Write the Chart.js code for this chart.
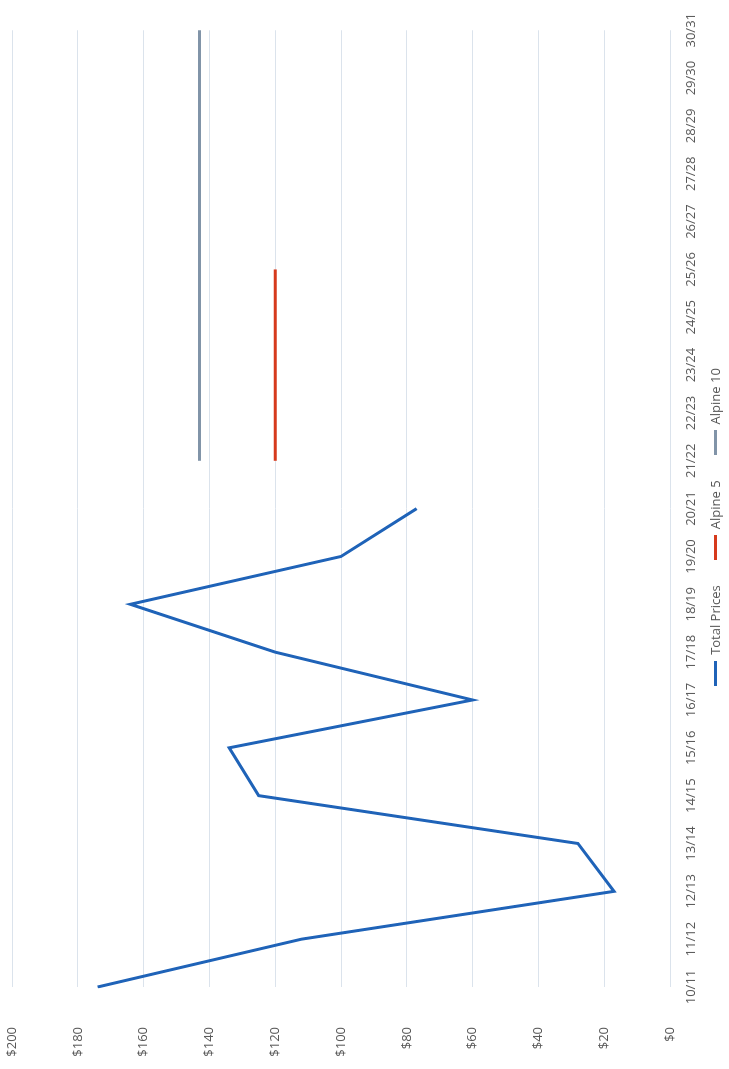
<!DOCTYPE html>
<html>
<head>
<meta charset="utf-8">
<script src="https://cdn.jsdelivr.net/npm/chart.js@4.4.1/dist/chart.umd.min.js"></script>
<style>
  html, body { margin: 0; padding: 0; background: #fff; overflow: hidden; }
  body { width: 729px; height: 1069px; position: relative; }
  /* the chart is laid out landscape and turned a quarter turn */
  #wrap {
    position: absolute; left: 0; top: 0;
    width: 1069px; height: 729px;
    transform-origin: 0 0;
    transform: translateY(1069px) rotate(-90deg);
  }
  #legend {
    position: absolute; left: 0; top: 706px; width: 1084px;
    display: flex; justify-content: center; gap: 25px;
    font: 13px 'Open Sans', 'Liberation Sans', sans-serif;
    color: #595959; line-height: 18px;
  }
  #legend span.item { display: flex; align-items: center; }
  #legend span.mark { display: inline-block; width: 25px; height: 3px; margin-right: 6px; }
</style>
</head>
<body>
<div id="wrap">
  <canvas id="myChart" width="1069" height="729"></canvas>
  <div id="legend"></div>
</div>
<script>
// season labels
const CATEGORIES = [
  "10/11", "11/12", "12/13", "13/14", "14/15", "15/16", "16/17",
  "17/18", "18/19", "19/20", "20/21", "21/22", "22/23", "23/24",
  "24/25", "25/26", "26/27", "27/28", "28/29", "29/30", "30/31",
];

// series values (null = no value that season)
const TOTAL_PRICES = [174, 112, 17, 28, 125, 134, 60, 120, 164, 100, 77,
  null, null, null, null, null, null, null, null, null, null];
const ALPINE_5 = [null, null, null, null, null, null, null, null, null, null, null,
  120, 120, 120, 120, 120, null, null, null, null, null];
const ALPINE_10 = [null, null, null, null, null, null, null, null, null, null, null,
  143, 143, 143, 143, 143, 143, 143, 143, 143, 143];

// value axis ticks
const Y_MIN = 0;
const Y_MAX = 200;
const Y_STEP = 20;

const COLORS = {
  blue: "#1f63b8",
  red: "#d63a1c",
  grey: "#8194a8",
  grid: "#dbe3ec",
  text: "#595959",
};

const FONT = "'Open Sans', 'Liberation Sans', sans-serif";

const makeLine = (label, data, color) => ({
  label,
  data,
  borderColor: color,
  backgroundColor: color,
  borderWidth: 3,
  pointRadius: 0,
  pointHoverRadius: 0,
  tension: 0,
  fill: false,
});

/**
 * HTML legend: a short line swatch + dataset label per series
 */
const htmlLegend = {
  id: "htmlLegend",
  afterUpdate(chart) {
    const box = document.getElementById("legend");
    if (!box) return;
    box.innerHTML = "";
    chart.data.datasets.forEach((ds) => {
      const item = document.createElement("span");
      item.className = "item";
      const mark = document.createElement("span");
      mark.className = "mark";
      mark.style.background = ds.borderColor;
      item.appendChild(mark);
      item.appendChild(document.createTextNode(ds.label));
      box.appendChild(item);
    });
  },
};

const chartConfig = {
  type: "line",
  data: {
    labels: CATEGORIES,
    datasets: [
      makeLine("Total Prices", TOTAL_PRICES, COLORS.blue),
      makeLine("Alpine 5", ALPINE_5, COLORS.red),
      makeLine("Alpine 10", ALPINE_10, COLORS.grey),
    ],
  },
  options: {
    responsive: false,
    animation: false,
    layout: {
      padding: { top: 12, right: 27, bottom: 29, left: 0 },
    },
    plugins: {
      legend: { display: false },
      tooltip: { enabled: false },
    },
    scales: {
      x: {
        grid: { display: false, drawTicks: false },
        border: { display: false },
        ticks: {
          color: COLORS.text,
          font: { family: FONT, size: 13 },
          padding: 13,
          maxRotation: 0,
          autoSkip: false,
        },
        afterFit: (scale) => { scale.height = 30; },
      },
      y: {
        min: Y_MIN,
        max: Y_MAX,
        border: { display: false },
        grid: {
          color: COLORS.grid,
          drawTicks: false,
        },
        ticks: {
          stepSize: Y_STEP,
          padding: 40,
          color: COLORS.text,
          font: { family: FONT, size: 13 },
          callback: (v) => "$" + v,
        },
        // fixed axis width; keep the tick padding out of the vertical layout
        afterFit: (scale) => {
          scale.width = 82;
          scale.paddingTop = 0;
          scale.paddingBottom = 0;
        },
      },
    },
  },
  plugins: [htmlLegend],
};

const initChart = () => {
  const canvas = document.getElementById("myChart");
  if (!canvas) return;
  new Chart(canvas, chartConfig);
};

if (document.readyState === "loading") {
  document.addEventListener("DOMContentLoaded", initChart);
} else {
  initChart();
}
</script>
</body>
</html>
